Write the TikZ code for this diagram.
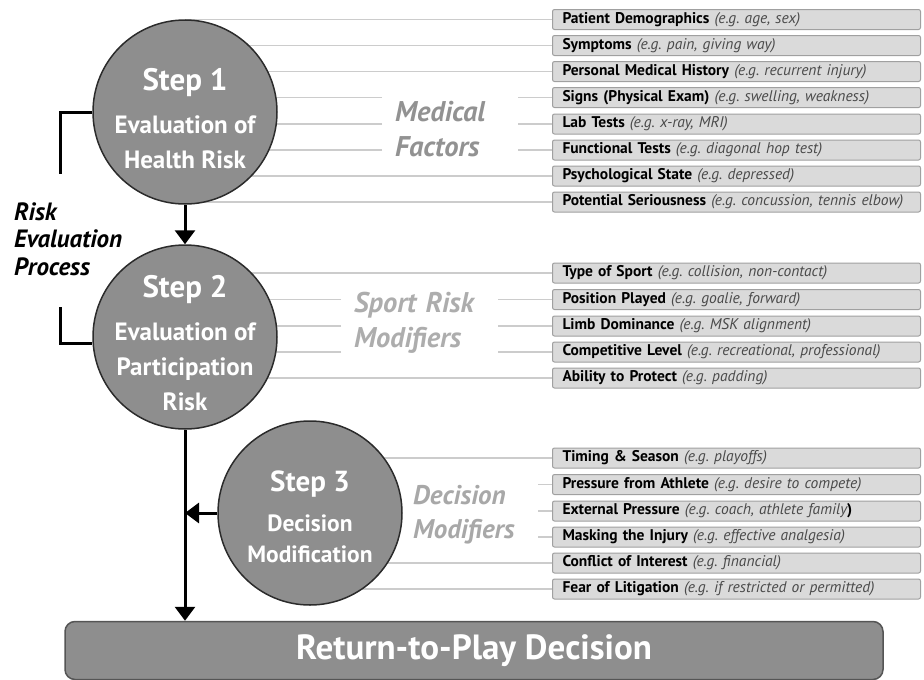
\documentclass[tikz,border=0pt]{standalone}
\usepackage{fontspec}
\setmainfont{PT Sans}
\usetikzlibrary{arrows.meta,backgrounds}

\definecolor{stepfill}{HTML}{8E8E8E}
\definecolor{stepedge}{HTML}{2B2B2B}
\definecolor{boxfill}{HTML}{DADADA}
\definecolor{boxedge}{HTML}{A0A0A0}
\definecolor{feedgray}{HTML}{CCCCCC}
\definecolor{labelgray}{HTML}{929292}
\definecolor{egtext}{HTML}{4A4A4A}

\newcommand{\riskitem}[2]{\textbf{#1} {\color{egtext}\itshape (e.g.\ #2)}}

\tikzset{
    stepcircle/.style={circle, draw=stepedge, line width=1.5pt, fill=stepfill,
        minimum size=184pt, inner sep=0pt},
    steptext/.style={text=white, align=center, inner sep=0pt,
        font=\fontsize{25}{35}\selectfont\bfseries},
    factorbox/.style={draw=boxedge, fill=boxfill, rounded corners=2pt, line width=1pt,
        anchor=west, inner xsep=10pt, inner ysep=0pt, minimum height=20pt,
        text width=348pt, align=left, font=\fontsize{15.5}{16}\selectfont},
    grouplabel/.style={anchor=west, inner xsep=13pt, inner ysep=0pt, align=left,
        text=labelgray, font=\fontsize{28.5}{35}\selectfont\bfseries\itshape},
    feed/.style={draw=feedgray, line width=1.5pt},
    flow/.style={line width=3pt, -{Triangle[length=14pt,width=20pt]}},
    bracket/.style={line width=3pt},
}

\begin{document}
\begin{tikzpicture}[x=1pt, y=-1pt]
    \useasboundingbox (0,0) rectangle (924,680);

    \node[stepcircle] (step1) at (185,112) {};
    \node[stepcircle] (step2) at (185,337) {};
    \node[stepcircle] (step3) at (310,513) {};

    \node[steptext] (step1text) at ([yshift=-7pt]step1.center)
        {{\fontsize{31}{31}\selectfont Step 1}\\[8pt] Evaluation of\\ Health Risk};
    \node[steptext] (step2text) at ([yshift=-6pt]step2.center)
        {{\fontsize{31}{31}\selectfont Step 2}\\[8pt] Evaluation of\\ Participation\\ Risk};
    \node[steptext, font=\fontsize{23.5}{31}\selectfont\bfseries] (step3text) at ([yshift=-4pt]step3.center)
        {{\fontsize{29}{29}\selectfont Step 3}\\[9pt] Decision\\ Modification};

    \node[anchor=west, align=left, inner sep=0pt, font=\fontsize{25}{27.5}\selectfont\bfseries\itshape]
        (process) at (14,239) {Risk\\ Evaluation\\ Process};

    \node[factorbox] (med1) at (552,19.5) {\riskitem{Patient Demographics}{age, sex}};
    \node[factorbox] (med2) at (552,45.5) {\riskitem{Symptoms}{pain, giving way}};
    \node[factorbox] (med3) at (552,71.5) {\riskitem{Personal Medical History}{recurrent injury}};
    \node[factorbox] (med4) at (552,97.5) {\riskitem{Signs (Physical Exam)}{swelling, weakness}};
    \node[factorbox] (med5) at (552,124) {\riskitem{Lab Tests}{x-ray, MRI}};
    \node[factorbox] (med6) at (552,150) {\riskitem{Functional Tests}{diagonal hop test}};
    \node[factorbox] (med7) at (552,176) {\riskitem{Psychological State}{depressed}};
    \node[factorbox] (med8) at (552,202) {\riskitem{Potential Seriousness}{concussion, tennis elbow}};

    \node[factorbox] (sport1) at (552,273) {\riskitem{Type of Sport}{collision, non-contact}};
    \node[factorbox] (sport2) at (552,299.5) {\riskitem{Position Played}{goalie, forward}};
    \node[factorbox] (sport3) at (552,326) {\riskitem{Limb Dominance}{MSK alignment}};
    \node[factorbox] (sport4) at (552,352) {\riskitem{Competitive Level}{recreational, professional}};
    \node[factorbox] (sport5) at (552,378) {\riskitem{Ability to Protect}{padding}};

    \node[factorbox] (dec1) at (552,458) {\riskitem{Timing \& Season}{playoffs}};
    \node[factorbox] (dec2) at (552,484.5) {\riskitem{Pressure from Athlete}{desire to compete}};
    \node[factorbox] (dec3) at (552,511) {\textbf{External Pressure} {\color{egtext}\itshape (e.g.\ coach, athlete family}\textbf{)}};
    \node[factorbox] (dec4) at (552,537) {\riskitem{Masking the Injury}{effective analgesia}};
    \node[factorbox] (dec5) at (552,563) {\riskitem{Conflict of Interest}{financial}};
    \node[factorbox] (dec6) at (552,589) {\riskitem{Fear of Litigation}{if restricted or permitted}};

    \node[grouplabel, text width=110pt] (medlabel) at (382,129.5) {Medical\\ Factors};
    \node[grouplabel, text width=131pt, text=labelgray!75] (sportlabel) at (341,322.5) {Sport Risk\\ Modifiers};
    \node[grouplabel, text width=112pt, text=labelgray!80, font=\fontsize{27}{34}\selectfont\bfseries\itshape]
        (declabel) at (400,515) {Decision\\ Modifiers};

    \node[draw=stepedge!80, line width=1.5pt, fill=stepfill, rounded corners=10pt,
        minimum width=818pt, minimum height=58pt, text=white, font=\fontsize{35}{35}\selectfont\bfseries]
        (rtp) at (474,650.5) {Return-to-Play Decision};

    \begin{scope}[on background layer]
        \draw[feed] (med1.west) -- (med1.west -| step1.center);
        \draw[feed] (med2.west) -- (med2.west -| step1.center);
        \draw[feed] (med3.west) -- (med3.west -| step1.center);
        \draw[feed] (med4.west) -- (med4.west -| medlabel.east);
        \draw[feed] (med4.west -| medlabel.west) -- (med4.west -| step1.center);
        \draw[feed] (med5.west) -- (med5.west -| medlabel.east);
        \draw[feed] (med5.west -| medlabel.west) -- (med5.west -| step1.center);
        \draw[feed] (med6.west) -- (med6.west -| medlabel.east);
        \draw[feed] (med6.west -| medlabel.west) -- (med6.west -| step1.center);
        \draw[feed] (med7.west) -- (med7.west -| step1.center);
        \draw[feed] (med8.west) -- (med8.west -| step1.center);

        \draw[feed] (sport1.west) -- (sport1.west -| step2.center);
        \draw[feed] (sport2.west) -- (sport2.west -| sportlabel.east);
        \draw[feed] (sport2.west -| sportlabel.west) -- (sport2.west -| step2.center);
        \draw[feed] (sport3.west) -- (sport3.west -| sportlabel.east);
        \draw[feed] (sport3.west -| sportlabel.west) -- (sport3.west -| step2.center);
        \draw[feed] (sport4.west) -- (sport4.west -| sportlabel.east);
        \draw[feed] (sport4.west -| sportlabel.west) -- (sport4.west -| step2.center);
        \draw[feed] (sport5.west) -- (sport5.west -| step2.center);

        \draw[feed] (dec1.west) -- (dec1.west -| step3.center);
        \draw[feed] (dec2.west) -- (dec2.west -| declabel.east);
        \draw[feed] (dec3.west) -- (dec3.west -| declabel.east);
        \draw[feed] (dec4.west) -- (dec4.west -| declabel.east);
        \draw[feed] (dec5.west) -- (dec5.west -| step3.center);
        \draw[feed] (dec6.west) -- (dec6.west -| step3.center);
    \end{scope}

    \coordinate (brace1) at (60,174);
    \coordinate (brace2) at (60,307);
    \draw[bracket] (step1.west) -| (brace1);
    \draw[bracket] (step2.184) -| (brace2);

    \draw[flow] (step1.south) -- (step2.north);
    \draw[flow] (step2.south) -- (step2.south |- rtp.north);
    \draw[flow] (step3.west) -- (step3.west -| step2.south);
\end{tikzpicture}
\end{document}
